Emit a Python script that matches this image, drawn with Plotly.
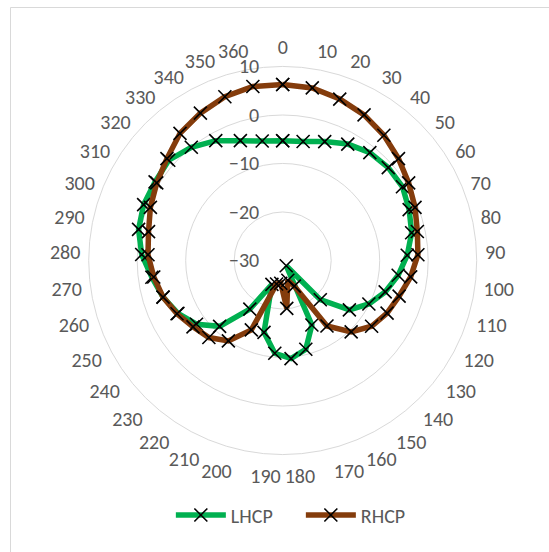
import plotly.graph_objects as go

angles = [str(a) for a in range(0, 361, 10)]
lhcp = [-5.3, -5.1, -4.0, -2.5, -1.4, -1.0, -1.0, -1.9, -2.8, -4.3,
        -6.0, -7.9, -10.1, -12.9, -18.8, -28.7, -15.4, -11.1, -9.7, -10.8,
        -14.7, -24.6, -17.9, -11.2, -7.9, -5.8, -4.2, -2.8, -0.9, 0.4,
        0.9, 0.9, 1.3, 0.0, -1.7, -3.8, -5.0]
rhcp = [6.3, 6.1, 5.3, 4.4, 3.2, 1.8, 0.5, -0.6, -1.6, -2.1,
        -3.4, -4.9, -5.9, -7.2, -9.6, -13.7, -24.2, -25.8, -20.1, -25.3,
        -25.0, -14.3, -10.0, -8.0, -7.0, -5.6, -4.2, -3.2, -2.2, -1.7,
        -0.6, 0.5, 1.8, 3.7, 4.8, 5.8, 6.4]
radial_ticks = [-30, -20, -10, 0, 10]
series_names = ["LHCP", "RHCP"]

W, H = 549, 552
FONT = "Calibri, Carlito, Lato, sans-serif"
GRID = "#d9d9d9"
TXT = "#595959"
FS = 20

fig = go.Figure()
for name, vals, col in [(series_names[0], lhcp, "#00b050"), (series_names[1], rhcp, "#843c0c")]:
    fig.add_trace(go.Scatterpolar(
        r=vals + vals[:1],
        theta=angles + angles[:1],
        mode="lines+markers",
        name=name,
        line=dict(color=col, width=5.5),
        marker=dict(symbol="x-thin", size=13, color="black",
                    line=dict(color="black", width=1.6)),
    ))

cx, cy, R = 282.7, 260.5, 194
fig.update_layout(
    width=W, height=H,
    margin=dict(l=0, r=0, t=0, b=0),
    paper_bgcolor="white",
    plot_bgcolor="white",
    font=dict(family=FONT, size=FS, color=TXT),
    polar=dict(
        domain=dict(x=[(cx - R) / W, (cx + R) / W], y=[1 - (cy + R) / H, 1 - (cy - R) / H]),
        bgcolor="white",
        angularaxis=dict(type="category", categoryarray=angles, direction="clockwise",
                         rotation=90, showgrid=False, showline=True, linecolor=GRID,
                         linewidth=1, ticks="outside", ticklen=4,
                         tickcolor="rgba(0,0,0,0)",
                         tickfont=dict(family=FONT, size=FS, color=TXT)),
        radialaxis=dict(range=[-30, 10], tickvals=radial_ticks, angle=90, tickangle=90,
                        side="counterclockwise", showline=False, ticks="outside",
                        ticklen=16, tickcolor="rgba(0,0,0,0)",
                        gridcolor=GRID, gridwidth=1,
                        tickfont=dict(family=FONT, size=FS, color=TXT)),
    ),
    legend=dict(orientation="h", x=0.548, xanchor="center", y=1 - 515 / H, yanchor="middle",
                font=dict(family=FONT, size=FS, color=TXT), itemwidth=50,
                entrywidth=65, entrywidthmode="pixels"),
    shapes=[dict(type="rect", xref="paper", yref="paper",
                 x0=10.5 / W, x1=1.1, y0=-0.1, y1=1 - 7.5 / H,
                 line=dict(color=GRID, width=1))],
)
fig.write_html("out.html", config={"displayModeBar": False},
               post_script="document.body.style.margin='0';document.body.style.overflow='hidden';")
